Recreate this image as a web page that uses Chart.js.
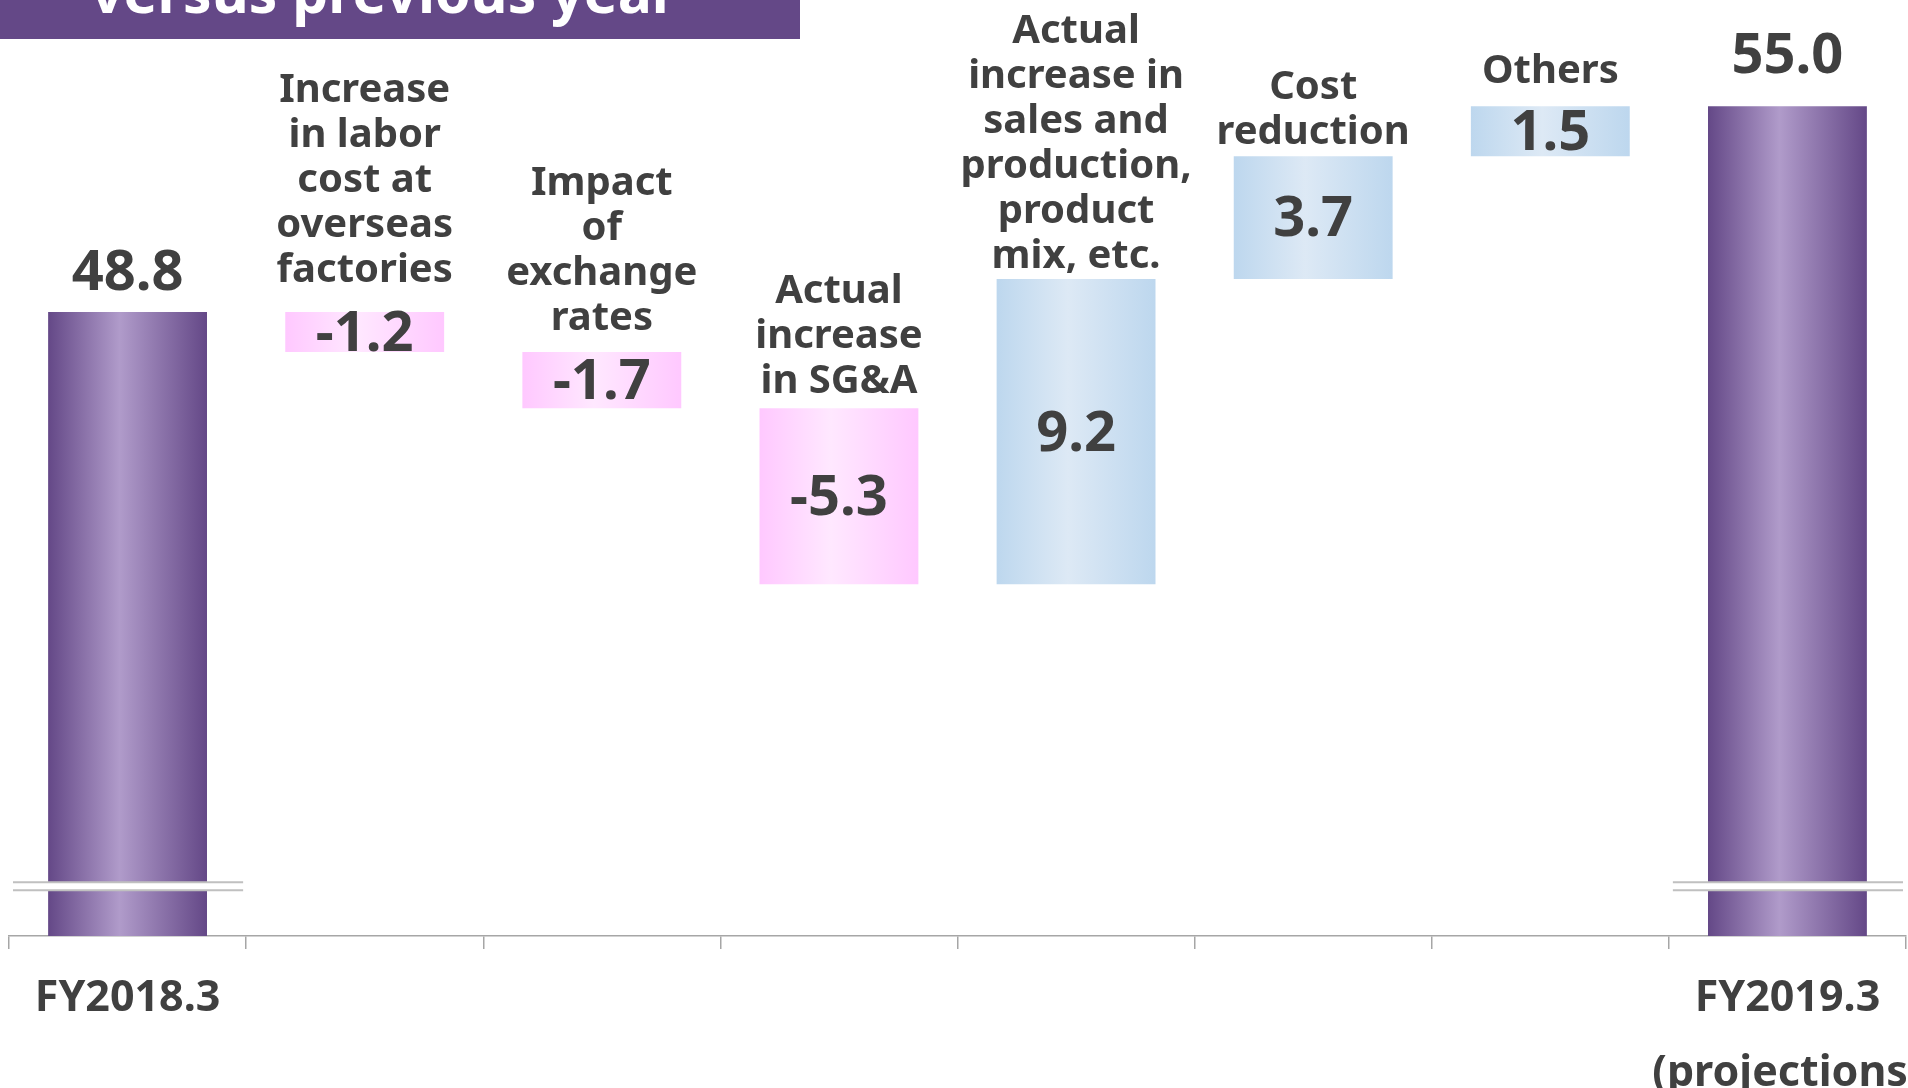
<!DOCTYPE html>
<html>
<head>
<meta charset="utf-8">
<script src="https://cdn.jsdelivr.net/npm/chart.js@4.4.0/dist/chart.umd.min.js"></script>
<style>
html, body { margin: 0; padding: 0; background: #fff; overflow: hidden; }
canvas { display: block; }
</style>
</head>
<body>
<canvas id="myChart" width="1908" height="1088"></canvas>
<script>
// data
const axisLabels = ['FY2018.3', '', '', '', '', '', '', ['FY2019.3', '(projections)']];
const stepLabels = [
    [],
    ['Increase', 'in labor', 'cost at', 'overseas', 'factories'],
    ['Impact', 'of', 'exchange', 'rates'],
    ['Actual', 'increase', 'in SG&A'],
    ['Actual', 'increase in', 'sales and', 'production,', 'product', 'mix, etc.'],
    ['Cost', 'reduction'],
    ['Others'],
    []
];
const startValue = 48.8;
const changes = [-1.2, -1.7, -5.3, 9.2, 3.7, 1.5];
const endValue = 55.0;
const yMin = 30;
const yMax = 57;

// gap (px) between a bar top and the text above it, set by hand like the slide
const labelGap = [38, 42, 33, 27, 22, 24, 35, 49];

// build the floating bars of the waterfall
const bars = [[yMin, startValue]];
const kinds = ['total'];
const valueText = [startValue.toFixed(1)];
let run = startValue;
changes.forEach(c => {
    bars.push([run, run + c]);
    kinds.push(c < 0 ? 'down' : 'up');
    valueText.push(c.toFixed(1));
    run += c;
});
bars.push([yMin, endValue]);
kinds.push('total');
valueText.push(endValue.toFixed(1));

const FONT = "'Noto Sans', sans-serif";
const TEXT = '#404040';
const BAR_PCT = 0.67;

const fills = {
    total: ['#644887', '#b09bca', '#644887'],
    down: ['#ffc8ff', '#ffe8ff', '#ffc8ff'],
    up: ['#bdd7ee', '#dde9f5', '#bdd7ee']
};

function barFill(context) {
    const chart = context.chart;
    const i = context.dataIndex;
    const cols = fills[kinds[i]];
    if (!chart.chartArea || !chart.scales.x) return cols[0];
    const x = chart.scales.x;
    const cx = x.getPixelForValue(i);
    const w = x.width / axisLabels.length * BAR_PCT;
    const g = chart.ctx.createLinearGradient(cx - w / 2, 0, cx + w / 2, 0);
    g.addColorStop(0, cols[0]);
    g.addColorStop(0.45, cols[1]);
    g.addColorStop(1, cols[2]);
    return g;
}

// labels over the bars, axis break marks, banner
const waterfallPlugin = {
    id: 'waterfall',
    afterDatasetsDraw(chart) {
        const ctx = chart.ctx;
        const x = chart.scales.x;
        const y = chart.scales.y;
        const catW = x.width / axisLabels.length;
        ctx.save();

        // break marks on the total bars
        const by = y.getPixelForValue(31.5);
        bars.forEach((b, i) => {
            if (kinds[i] !== 'total') return;
            const cx = x.getPixelForValue(i);
            const x0 = cx - catW / 2 + 4;
            const x1 = cx + catW / 2 - 3;
            ctx.fillStyle = '#ffffff';
            ctx.fillRect(x0, by - 4, x1 - x0, 8);
            ctx.strokeStyle = '#c0c0c0';
            ctx.lineWidth = 2;
            ctx.beginPath();
            ctx.moveTo(x0, by - 4); ctx.lineTo(x1, by - 4);
            ctx.moveTo(x0, by + 4); ctx.lineTo(x1, by + 4);
            ctx.stroke();
        });

        ctx.fillStyle = TEXT;
        ctx.textAlign = 'center';
        ctx.textBaseline = 'middle';
        bars.forEach((b, i) => {
            const cx = x.getPixelForValue(i);
            const top = y.getPixelForValue(Math.max(b[0], b[1]));
            const bottom = y.getPixelForValue(Math.min(b[0], b[1]));
            ctx.font = 'bold 56px ' + FONT;
            if (kinds[i] === 'total') {
                ctx.fillText(valueText[i], cx, top - labelGap[i]);
            } else {
                ctx.fillText(valueText[i], cx, (top + bottom) / 2 + 3);
            }
            const lines = stepLabels[i];
            ctx.font = 'bold 40px ' + FONT;
            lines.forEach((t, k) => {
                ctx.fillText(t, cx, top - labelGap[i] - (lines.length - 1 - k) * 45);
            });
        });
        ctx.restore();
    },
    afterDraw(chart) {
        const ctx = chart.ctx;
        ctx.save();
        ctx.fillStyle = '#644887';
        ctx.fillRect(0, 0, 800, 39);
        ctx.fillStyle = '#ffffff';
        ctx.font = 'bold 57px ' + FONT;
        ctx.textAlign = 'left';
        ctx.textBaseline = 'alphabetic';
        ctx.fillText('versus previous year', 91, 13);
        ctx.restore();
    }
};

const ctx = document.getElementById('myChart').getContext('2d');
new Chart(ctx, {
    type: 'bar',
    data: {
        labels: axisLabels,
        datasets: [{
            data: bars,
            backgroundColor: barFill,
            borderWidth: 0,
            barPercentage: BAR_PCT,
            categoryPercentage: 1.0
        }]
    },
    options: {
        responsive: false,
        animation: false,
        layout: {
            padding: { left: 9, right: 2, top: 40, bottom: 0 }
        },
        plugins: {
            legend: { display: false },
            tooltip: { enabled: false }
        },
        scales: {
            x: {
                grid: {
                    drawOnChartArea: false,
                    drawTicks: true,
                    tickLength: 13,
                    color: '#a6a6a6',
                    lineWidth: 1.5
                },
                border: { color: '#a6a6a6', width: 1.5 },
                ticks: {
                    color: TEXT,
                    autoSkip: false,
                    maxRotation: 0,
                    padding: 12,
                    font: { family: FONT, size: 43, weight: 'bold', lineHeight: 1.75 }
                },
                afterFit: s => {
                    s.height = 152;
                    s.paddingLeft = 0;
                    s.paddingRight = 0;
                }
            },
            y: {
                display: false,
                min: yMin,
                max: yMax
            }
        }
    },
    plugins: [waterfallPlugin]
});
</script>
</body>
</html>
